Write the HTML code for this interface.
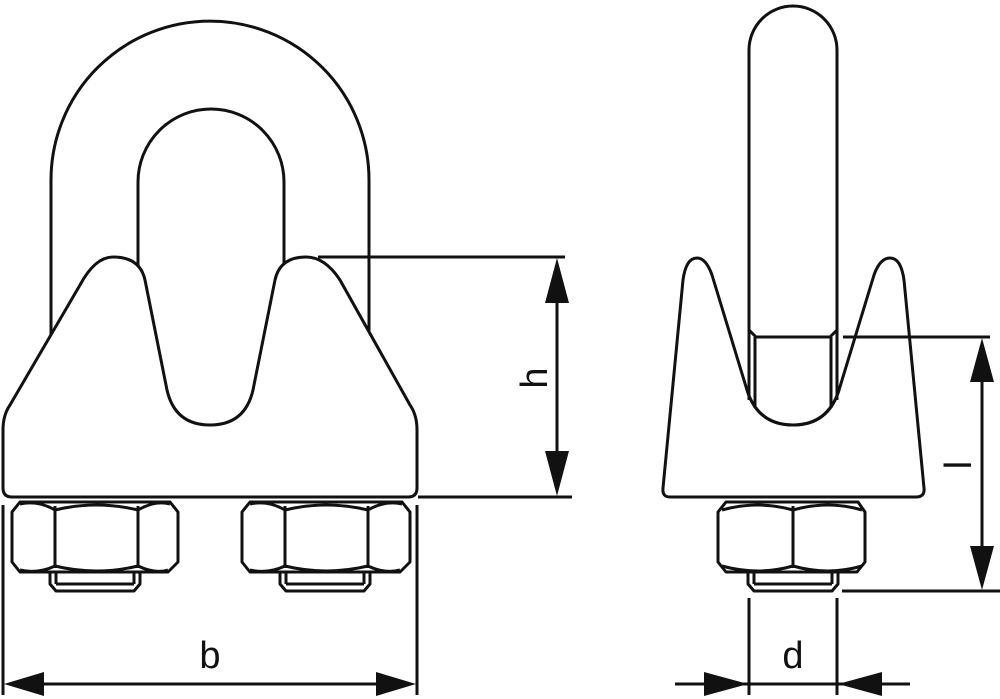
<!DOCTYPE html>
<html><head><meta charset="utf-8"><style>
html,body{margin:0;padding:0;background:#fff;}
svg{display:block;}
text{font-family:"Liberation Sans",Arial,sans-serif;fill:#111;}
</style></head><body>
<svg width="1000" height="699" viewBox="0 0 1000 699" xmlns="http://www.w3.org/2000/svg">
<g fill="none" stroke="#111" stroke-width="3" stroke-linejoin="round">
<!-- LEFT VIEW: U-bolt -->
<path d="M51,340 L51,180 A159,159 0 0 1 369,180 L369,340"/>
<path d="M138,300 L138,182 A73,73 0 0 1 284,182 L284,300"/>
<!-- saddle -->
<path fill="#fff" d="M3,488 L3,430 Q3,415 10,405 L80,285 Q95,257 113,257 Q140,257 145,280 L167,390 Q175,425 210,425 Q245,425 253,390 L275,280 Q280,257 306,257 Q325,257 340,280 L410,405 Q417,415 417,430 L417,488 Q417,497 408,497 L12,497 Q3,497 3,488 Z"/>
<!-- nuts left -->
<path d="M20,502 L170,502 L178,512 L178,562 L168,572 L20,572 L12,562 L12,512 Z"/>
<path d="M55,506 L55,568 M138,506 L138,568 M55,510 Q96,500 138,510 M55,566 Q96,576 138,566 M20,504 Q38,500 55,510 M138,510 Q155,500 170,504 M20,570 Q38,574 55,566 M138,566 Q155,574 168,570"/>
<path d="M50,572 L50,584 L56,591 L134,591 L140,584 L140,572 M56,572 L56,584 M134,572 L134,584 M56,584 L134,584"/>
<path d="M250,502 L402,502 L410,512 L410,562 L400,572 L250,572 L242,562 L242,512 Z"/>
<path d="M285,506 L285,568 M368,506 L368,568 M285,510 Q326,500 368,510 M285,566 Q326,576 368,566 M250,504 Q268,500 285,510 M368,510 Q385,500 402,504 M250,570 Q268,574 285,566 M368,566 Q385,574 400,570"/>
<path d="M280,572 L280,584 L286,591 L364,591 L370,584 L370,572 M286,572 L286,584 M364,572 L364,584 M286,584 L364,584"/>

<!-- RIGHT VIEW: saddle -->
<path fill="#fff" d="M670,497 Q662,497 663,488 L683,280 Q686,258 697,258 Q706,258 712,275 L747,390 Q758,425 793,425 Q828,425 839,390 L874,275 Q880,258 890,258 Q901,258 904,280 L924,488 Q925,497 916,497 Z"/>
<!-- rod -->
<path fill="#fff" d="M749,395 L749,50 A44,44 0 0 1 837,50 L837,395 Q825,418 793,418 Q761,418 749,395 Z" stroke="none"/>
<path d="M749,400 L749,50 A44,44 0 0 1 837,50 L837,400"/>
<path d="M749,330 L756,337 L830,337 L837,330 M755,337 L755,408 M831,337 L831,408"/>
<path d="M747,390 Q758,425 793,425 Q828,425 839,390"/>
<!-- nut right -->
<path d="M726,502 L858,502 L865,512 L865,562 L857,572 L726,572 L718,562 L718,512 Z"/>
<path d="M793,506 L793,568 M722,510 Q758,500 793,510 Q828,500 862,510 M722,566 Q758,576 793,566 Q828,576 862,566"/>
<path d="M748,572 L748,584 L754,591 L832,591 L838,584 L838,572 M754,572 L754,584 M832,572 L832,584 M754,584 L832,584"/>
</g>

<!-- dimensions -->
<g stroke="#111" stroke-width="3" fill="none">
<path d="M318,257 L565,257 M418,497 L572,497 M557,300 L557,455"/>
<path d="M3,505 L3,695 M417,505 L417,695 M40,684 L380,684"/>
<path d="M843,337 L990,337 M842,591 L1000,591 M982,378 L982,550"/>
<path d="M749,598 L749,695 M837,598 L837,695 M675,684 L910,684"/>
</g>
<g fill="#111">
<path d="M557,258 L569,303 L545,303 Z"/>
<path d="M557,496 L569,451 L545,451 Z"/>
<path d="M4,684 L44,672 L44,696 Z"/>
<path d="M416,684 L376,672 L376,696 Z"/>
<path d="M982,338 L994,382 L970,382 Z"/>
<path d="M982,590 L994,546 L970,546 Z"/>
<path d="M748,684 L704,672 L704,696 Z"/>
<path d="M838,684 L882,672 L882,696 Z"/>
</g>
<text x="210" y="668" font-size="38" text-anchor="middle">b</text>
<text x="793" y="668" font-size="38" text-anchor="middle">d</text>
<text transform="translate(547,378) rotate(-90)" font-size="38" text-anchor="middle">h</text>
<text transform="translate(971,465) rotate(-90)" font-size="38" text-anchor="middle">l</text>
</svg>
</body></html>
